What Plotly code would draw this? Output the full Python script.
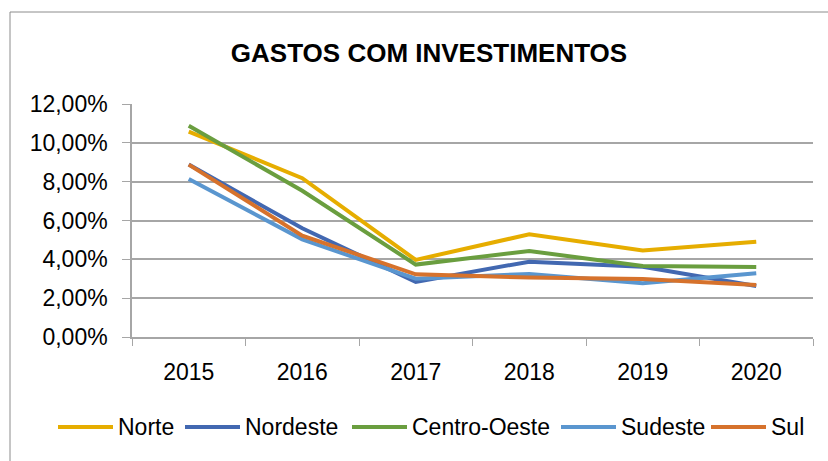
import plotly.graph_objects as go

years = ["2015", "2016", "2017", "2018", "2019", "2020"]
norte = [0.1058, 0.0818, 0.0397, 0.0529, 0.0445, 0.0491]
nordeste = [0.0888, 0.0560, 0.0284, 0.0388, 0.0362, 0.0263]
centro_oeste = [0.1088, 0.0753, 0.0373, 0.0443, 0.0366, 0.0361]
sudeste = [0.0814, 0.0503, 0.0300, 0.0325, 0.0277, 0.0328]
sul = [0.0888, 0.0522, 0.0323, 0.0306, 0.0299, 0.0268]

series = [
    ("Norte", norte, "#E6AD00"),
    ("Nordeste", nordeste, "#4268B1"),
    ("Centro-Oeste", centro_oeste, "#6A9E3F"),
    ("Sudeste", sudeste, "#5A96CF"),
    ("Sul", sul, "#D6722C"),
]

FONT = "Liberation Sans, Arial, sans-serif"

fig = go.Figure()
for name, vals, color in series:
    fig.add_trace(go.Scatter(
        x=years, y=vals, name=name, mode="lines",
        line=dict(color=color, width=4),
        showlegend=False,
    ))

W, H = 828, 461
L, R, T, B = 132, 15, 104, 124
pw, ph = W - L - R, H - T - B

def px_x(x):
    return (x - L) / pw

def px_y(y):
    return (H - B - y) / ph

fig.update_layout(
    width=W, height=H,
    margin=dict(l=L, r=R, t=T, b=B, autoexpand=False),
    paper_bgcolor="white", plot_bgcolor="white",
    separators=",.",
    font=dict(family=FONT, size=23, color="#000000"),
    title=dict(
        text="<b>GASTOS COM INVESTIMENTOS</b>",
        font=dict(family=FONT, size=26, color="#000000"),
        x=429 / W, xanchor="center",
        y=1 - 53 / H, yanchor="middle", yref="container",
        automargin=False,
    ),
    showlegend=False,
    xaxis=dict(
        type="category",
        range=[-0.5, len(years) - 0.5],
        automargin=False,
        showgrid=False,
        showline=True, linecolor="#A6A6A6", linewidth=1.5,
        ticks="outside", tickson="boundaries", ticklen=7, tickcolor="#A6A6A6",
        ticklabelstandoff=14,
        tickfont=dict(family=FONT, size=23, color="#000000"),
        fixedrange=True,
    ),
    yaxis=dict(
        range=[0, 0.12], dtick=0.02, tick0=0,
        tickformat=".2%",
        automargin=False,
        showgrid=True, gridcolor="#A6A6A6", gridwidth=1.5,
        showline=True, linecolor="#A6A6A6", linewidth=1.5,
        ticks="outside", ticklen=8, tickcolor="#A6A6A6",
        ticklabelstandoff=10,
        zeroline=False,
        tickfont=dict(family=FONT, size=23, color="#000000"),
        fixedrange=True,
    ),
)

# custom legend (long line samples like the reference)
legend_x = [58, 185, 352, 561, 711]
legend_y = 427
for (name, vals, color), lx in zip(series, legend_x):
    fig.add_shape(
        type="line", xref="paper", yref="paper",
        x0=px_x(lx), x1=px_x(lx + 55), y0=px_y(legend_y), y1=px_y(legend_y),
        line=dict(color=color, width=4),
    )
    fig.add_annotation(
        xref="paper", yref="paper",
        x=px_x(lx + 58), y=px_y(legend_y),
        xanchor="left", yanchor="middle",
        text=name, showarrow=False,
        font=dict(family=FONT, size=23, color="#000000"),
    )

# outer chart-area border (clipped on right and bottom like the reference)
fig.add_shape(
    type="rect", xref="paper", yref="paper",
    x0=px_x(10), x1=px_x(860), y0=px_y(480), y1=px_y(12),
    line=dict(color="#8C8C8C", width=1), fillcolor="rgba(0,0,0,0)",
    layer="below",
)

fig.write_html(
    "out.html",
    config={"displayModeBar": False},
    post_script="document.body.style.margin='0';document.body.style.overflow='hidden';",
)
